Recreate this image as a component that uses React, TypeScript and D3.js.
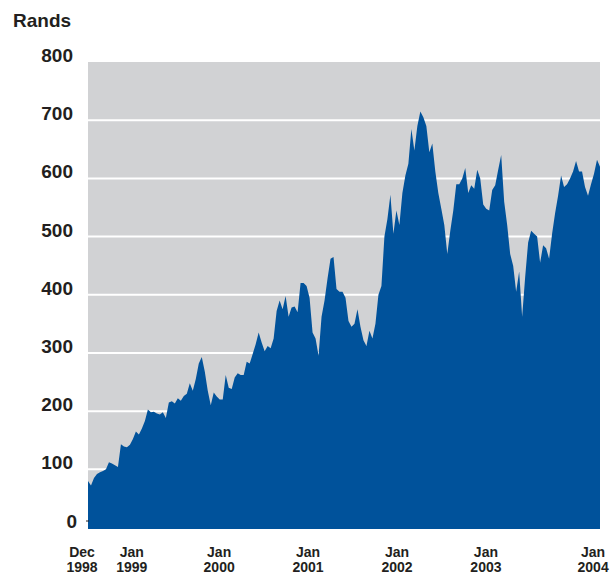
import * as d3 from 'd3';

// share price in rands, sampled evenly across the period
const prices = [
  80, 72, 85, 92, 95, 97, 100, 112, 110, 107, 104, 143, 139, 138, 142, 152, 165, 160, 170, 183,
  203, 198, 199, 196, 194, 198, 188, 215, 217, 213, 222, 218, 226, 230, 248, 235, 255, 282, 293, 268,
  235, 210, 232, 225, 220, 220, 262, 240, 238, 258, 265, 262, 262, 285, 282, 298, 315, 335, 318, 303,
  312, 308, 325, 372, 390, 375, 398, 362, 378, 380, 370, 420, 420, 415, 395, 335, 325, 295, 362, 390,
  428, 462, 465, 410, 405, 405, 395, 355, 345, 350, 375, 345, 322, 312, 338, 325, 350, 400, 415, 500,
  530, 572, 505, 545, 520, 575, 605, 625, 685, 648, 690, 715, 705, 690, 645, 660, 612, 575, 548, 520,
  470, 510, 545, 590, 590, 600, 618, 575, 588, 582, 615, 600, 555, 548, 545, 580, 588, 615, 640, 560,
  520, 470, 450, 405, 440, 362, 430, 490, 510, 505, 500, 455, 485, 480, 462, 505, 540, 570, 605, 585,
  590, 600, 612, 630, 612, 612, 585, 570, 590, 608, 632, 620,
];

const yTicks = [0, 100, 200, 300, 400, 500, 600, 700, 800];
const xLabels = [
  { month: 'Dec', year: '1998', at: -2 },
  { month: 'Jan', year: '1999', at: 14.6 },
  { month: 'Jan', year: '2000', at: 43.8 },
  { month: 'Jan', year: '2001', at: 73.5 },
  { month: 'Jan', year: '2002', at: 103.2 },
  { month: 'Jan', year: '2003', at: 132.9 },
  { month: 'Jan', year: '2004', at: 168.7 },
];

const width = 614;
const height = 573;
const plotLeft = 88;
const plotRight = 600;
const plotTop = 62;
const plotBottom = 529;
const font = '"Liberation Sans", Arial, sans-serif';
const ink = '#231f20';

export default function App() {
  const x = d3.scaleLinear([0, prices.length - 1], [plotLeft, plotRight]);
  const y = d3.scaleLinear([0, 800], [527.5, 62]);

  const area = d3
    .area<number>()
    .x((d, i) => x(i))
    .y0(plotBottom)
    .y1((d) => y(d));

  return (
    <svg
      width={width}
      height={height}
      style={{ position: 'absolute', left: 0, top: 0 }}
      fontFamily={font}
      fontWeight='bold'
    >
      <rect
        x={plotLeft}
        y={plotTop}
        width={plotRight - plotLeft}
        height={plotBottom - plotTop}
        fill='#d1d2d4'
      />
      {yTicks
        .filter((t) => t > 0 && t < 800)
        .map((t) => (
          <line
            key={t}
            x1={plotLeft}
            x2={plotRight}
            y1={y(t)}
            y2={y(t)}
            stroke='#ffffff'
            strokeWidth={2}
          />
        ))}
      <path d={area(prices) ?? ''} fill='#00529b' />

      <text x={13} y={26.5} fontSize={19} fill={ink}>
        Rands
      </text>
      {yTicks.map((t) => (
        <text
          key={t}
          x={t === 0 ? 77 : 73}
          y={y(t)}
          fontSize={19}
          textAnchor='end'
          fill={ink}
        >
          {t}
        </text>
      ))}
      <line x1={86} x2={89} y1={521} y2={521} stroke={ink} strokeWidth={1} />

      {xLabels.map((l) => (
        <text
          key={l.year + l.month}
          x={x(l.at)}
          fontSize={14}
          textAnchor='middle'
          fill={ink}
        >
          <tspan x={x(l.at)} y={557}>
            {l.month}
          </tspan>
          <tspan x={x(l.at)} y={571.5}>
            {l.year}
          </tspan>
        </text>
      ))}
    </svg>
  );
}
